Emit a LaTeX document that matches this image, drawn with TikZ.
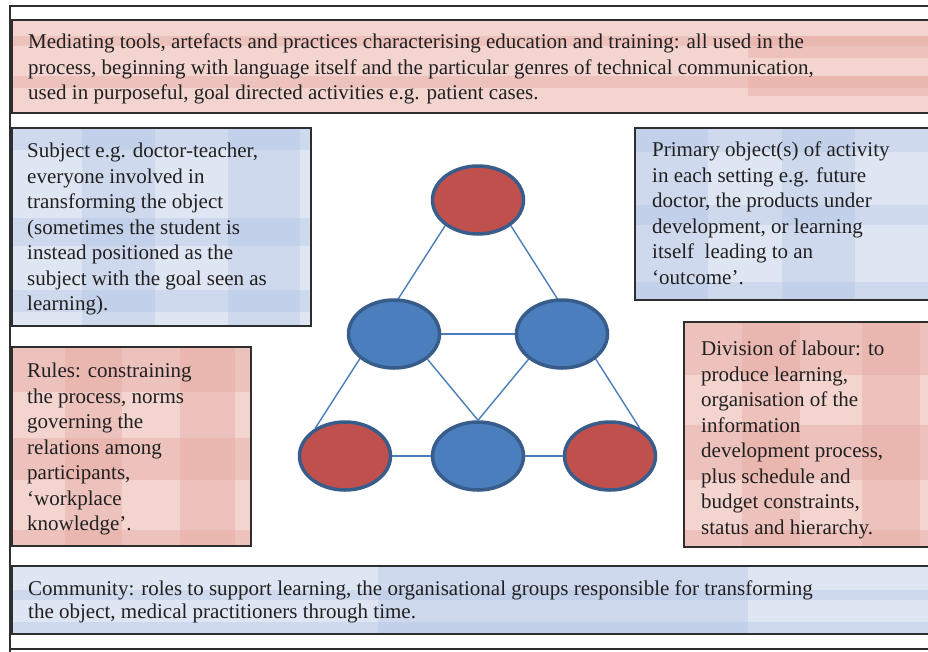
\documentclass[tikz,border=0pt]{standalone}
\usepackage{fontspec}
\setmainfont{Liberation Serif}
\usetikzlibrary{shapes.geometric,backgrounds}
\pgfdeclarelayer{paper}
\pgfsetlayers{paper,background,main}
\definecolor{redbase}{HTML}{F3D4CF}
\definecolor{redband}{HTML}{E4A29B}
\definecolor{bluebase}{HTML}{DFE6F3}
\definecolor{blueband}{HTML}{AFC2E4}
\definecolor{nodered}{HTML}{C0504D}
\definecolor{nodeblue}{HTML}{4A7EBC}
\definecolor{noderim}{HTML}{385D8A}
\definecolor{linkblue}{HTML}{4A7EBB}
\definecolor{boxline}{HTML}{2E2E2E}
\definecolor{txt}{HTML}{202020}
\tikzset{
  boxborder/.style={draw=boxline,line width=1.3pt},
  band/.style={opacity=0.35},
  boxtext/.style={anchor=north west,inner sep=0pt,align=left,text=txt,
    font=\fontsize{21}{25.5}\selectfont},
  oval/.style={ellipse,draw=noderim,line width=3.5pt,minimum width=91pt,minimum height=68pt,inner sep=0pt},
  redoval/.style={oval,fill=nodered},
  blueoval/.style={oval,fill=nodeblue},
  link/.style={draw=linkblue,line width=1.4pt}
}
\begin{document}
\begin{tikzpicture}[x=1pt,y=-1pt]
\clip (0,0) rectangle (928,651);
\begin{pgfonlayer}{paper}
\fill[white] (0,0) rectangle (928,651);
\end{pgfonlayer}
% outer frame
\draw[boxline,line width=2.6pt] (10,660) -- (10,6) -- (940,6);
\draw[boxline,line width=1.4pt] (10,649) -- (940,649);

% top red box
\fill[redbase] (12,20) rectangle (940,113);
\begin{scope}
\clip (12,20) rectangle (940,113);
\fill[redband,band] (12,36) rectangle (940,46);
\fill[redband,band] (12,76) rectangle (940,88);
\fill[redband,band] (748,36) rectangle (940,58);
\fill[redband,band] (748,76) rectangle (940,96);
\end{scope}
\draw[boxborder] (940,20) -- (12,20) -- (12,113) -- (940,113);

% subject blue box
\fill[bluebase] (12,128) rectangle (311,326);
\begin{scope}
\clip (12,128) rectangle (311,326);
\fill[blueband,band] (82,128) rectangle (155,326);
\fill[blueband,band] (228,128) rectangle (300,326);
\fill[blueband,band] (12,128) rectangle (311,150);
\fill[blueband,band] (12,218) rectangle (311,246);
\fill[blueband,band] (12,290) rectangle (311,312);
\end{scope}
\draw[boxborder] (12,128) rectangle (311,326);

% primary object blue box
\fill[bluebase] (635,128) rectangle (940,300);
\begin{scope}
\clip (635,128) rectangle (940,300);
\fill[blueband,band] (635,128) rectangle (708,300);
\fill[blueband,band] (782,128) rectangle (855,300);
\fill[blueband,band] (635,128) rectangle (940,152);
\fill[blueband,band] (635,205) rectangle (940,225);
\fill[blueband,band] (635,282) rectangle (940,300);
\end{scope}
\draw[boxborder] (940,128) -- (635,128) -- (635,300) -- (940,300);

% rules red box
\fill[redbase] (12,347) rectangle (251,546);
\begin{scope}
\clip (12,347) rectangle (251,546);
\fill[redband,band] (65,347) rectangle (122,546);
\fill[redband,band] (180,347) rectangle (235,546);
\fill[redband,band] (12,347) rectangle (251,392);
\fill[redband,band] (12,438) rectangle (251,480);
\fill[redband,band] (12,530) rectangle (251,546);
\end{scope}
\draw[boxborder] (12,347) rectangle (251,546);

% division red box
\fill[redbase] (684,322) rectangle (940,547);
\begin{scope}
\clip (684,322) rectangle (940,547);
\fill[redband,band] (742,322) rectangle (800,547);
\fill[redband,band] (862,322) rectangle (920,547);
\fill[redband,band] (684,322) rectangle (940,375);
\fill[redband,band] (684,425) rectangle (940,480);
\fill[redband,band] (684,530) rectangle (940,547);
\end{scope}
\draw[boxborder] (940,322) -- (684,322) -- (684,547) -- (940,547);

% community blue box
\fill[bluebase] (12,566) rectangle (940,634);
\begin{scope}
\clip (12,566) rectangle (940,634);
\fill[blueband,band] (378,566) rectangle (748,634);
\fill[blueband,band] (12,590) rectangle (940,600);
\fill[blueband,band] (12,622) rectangle (940,634);
\end{scope}
\draw[boxborder] (940,566) -- (12,566) -- (12,634) -- (940,634);

% texts
\node[boxtext] (ttop) at (28,34) {Mediating tools, artefacts and practices characterising education and training: all used in the\\
process, beginning with language itself and the particular genres of technical communication,\\
used in purposeful, goal directed activities e.g. patient cases.};
\node[boxtext] (tsubj) at (27,143) {Subject e.g. doctor-teacher,\\everyone involved in\\transforming the object\\(sometimes the student is\\instead positioned as the\\subject with the goal seen as\\learning).};
\node[boxtext] (tobj) at (652,142) {Primary object(s) of activity\\in each setting e.g. future\\doctor, the products under\\development, or learning\\itself\ \ leading to an\\`outcome'.};
\node[boxtext] (trules) at (27,363) {Rules: constraining\\the process, norms\\governing the\\relations among\\participants,\\`workplace\\knowledge'.};
\node[boxtext] (tdiv) at (701,341) {Division of labour: to\\produce learning,\\organisation of the\\information\\development process,\\plus schedule and\\budget constraints,\\status and hierarchy.};
\node[boxtext,font=\fontsize{21}{23}\selectfont] (tcom) at (28,581) {Community: roles to support learning, the organisational groups responsible for transforming\\the object, medical practitioners through time.};

% network
\node[redoval] (top) at (478,200) {};
\node[blueoval] (ml) at (394,334) {};
\node[blueoval] (mr) at (562,334) {};
\node[redoval] (bl) at (345,456) {};
\node[blueoval] (bm) at (478,456) {};
\node[redoval] (br) at (610,456) {};
\begin{scope}[on background layer]
\draw[link] (top.218) -- (bl.137);
\draw[link] (top.322) -- (br.43);
\draw[link] (ml.323) -- (bm.north);
\draw[link] (mr.217) -- (bm.north);
\draw[link] (ml.east) -- (mr.west);
\draw[link] (bl.east) -- (bm.west);
\draw[link] (bm.east) -- (br.west);
\end{scope}
\end{tikzpicture}
\end{document}
